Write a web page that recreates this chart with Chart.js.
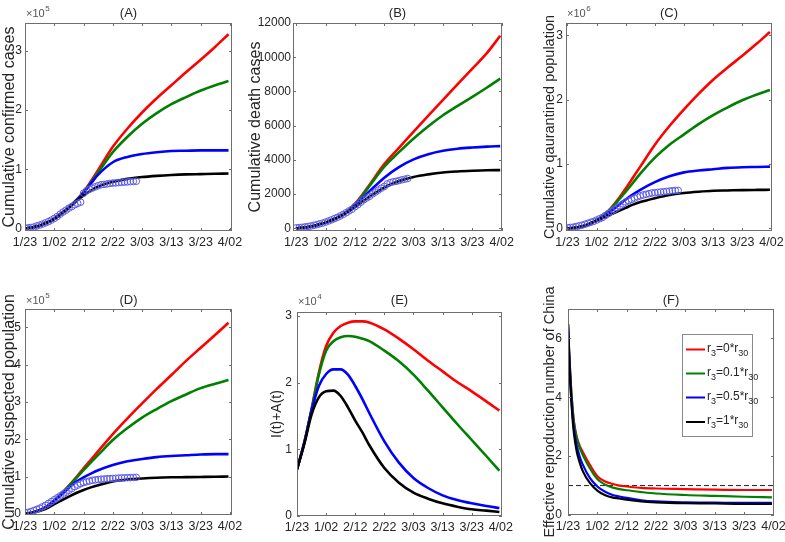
<!DOCTYPE html>
<html><head><meta charset="utf-8">
<script src="https://cdn.jsdelivr.net/npm/chart.js@4.4.1/dist/chart.umd.min.js"></script>
<style>
html,body{margin:0;padding:0;background:#fff;width:785px;height:542px;overflow:hidden;position:relative}
canvas{position:absolute}
</style></head><body>
<canvas id="cA"></canvas><canvas id="cB"></canvas><canvas id="cC"></canvas>
<canvas id="cD"></canvas><canvas id="cE"></canvas><canvas id="cF"></canvas>
<script>
// ---------- data ----------
const xTickDays   = [0, 10, 20, 30, 40, 50, 60, 70];
const xTickLabels = ['1/23', '1/02', '2/12', '2/22', '3/03', '3/13', '3/23', '4/02'];
const curveDays = [0, 2.5, 5, 7.5, 10, 12.5, 15, 17.5, 20, 22.5, 25, 30, 35, 40, 45, 50, 55, 60, 65, 69.5];
const rDays     = [0, 0.5, 1, 1.5, 2, 3, 4, 5, 7.5, 10, 12.5, 15, 17.5, 20, 25, 30, 40, 50, 60, 69.5];
const obsDays   = [0,1,2,3,4,5,6,7,8,9,10,11,12,13,14,15,16,17,18,19,20,21,22,23,24,25,26,27,28,29,30,31,32,33,34,35,36,37,38];
const legendFactors = ['0', '0.1', '0.5', '1'];

// (A) cumulative confirmed cases
const confirmed_r0  = [0,2000,5000,10000,17000,26000,36000,48000,62000,80000,99000,138000,169000,196000,220000,242000,264000,285000,307000,328000];
const confirmed_r01 = [0,2000,5000,10000,17000,26000,36000,48000,61000,78000,95000,129000,155000,177000,195000,210000,222000,233000,242000,249000];
const confirmed_r05 = [0,2000,5000,10000,17000,26000,36000,47000,60000,76000,91000,112000,121000,126000,129000,131000,131500,132000,132000,132000];
const confirmed_r1  = [0,2000,5000,10000,16000,25000,35000,46000,56000,64000,71000,79000,84000,87000,89000,90500,91500,92000,92500,93000];
const confirmed_obs = [830,1287,1975,2744,4515,5974,7711,9692,11791,14380,17205,20438,24324,28018,31161,34546,37198,40171,42638,44653,59804,63851,66492,68500,70548,72436,74185,74576,75465,76288,76936,77150,77658,78064,78497,78824,79251,79824,79968];

// (B) cumulative death cases
const death_r0  = [0,40,100,200,330,500,720,1000,1420,1950,2550,3750,4700,5650,6580,7500,8420,9330,10250,11250];
const death_r01 = [0,40,100,200,330,500,720,1000,1400,1900,2480,3600,4450,5250,5970,6610,7150,7680,8230,8750];
const death_r05 = [0,40,100,200,330,500,710,980,1360,1760,2170,2960,3580,4030,4330,4530,4650,4720,4770,4800];
const death_r1  = [0,40,100,200,330,500,700,950,1250,1550,1850,2380,2760,3000,3150,3260,3320,3360,3390,3400];
const death_obs = [25,41,56,80,106,132,170,213,259,304,361,425,490,563,636,722,811,908,1016,1113,1259,1380,1523,1665,1770,1868,2004,2118,2236,2345,2442,2592,2663,2715,2744,2788,2835,2870,2912];

// (C) cumulative quarantined population
const quar_r0  = [0,10000,30000,70000,130000,210000,320000,460000,620000,790000,960000,1300000,1590000,1850000,2090000,2310000,2500000,2680000,2870000,3050000];
const quar_r01 = [0,10000,30000,70000,130000,210000,310000,440000,570000,710000,850000,1100000,1300000,1460000,1620000,1760000,1880000,1990000,2080000,2150000];
const quar_r05 = [0,10000,30000,70000,125000,190000,270000,360000,450000,530000,600000,720000,810000,870000,900000,920000,940000,950000,955000,960000];
const quar_r1  = [0,10000,30000,70000,120000,170000,220000,270000,320000,370000,410000,470000,520000,550000,570000,585000,590000,595000,598000,600000];
const quar_obs = [10000,15000,20000,30000,40000,50000,65000,80000,95000,110000,130000,150000,170000,200000,230000,260000,290000,320000,350000,380000,410000,430000,450000,470000,490000,505000,520000,530000,540000,550000,555000,560000,565000,570000,575000,580000,585000,590000,590000];

// (D) cumulative suspected population
const susp_r0  = [0,4000,10000,20000,36000,55000,76000,98000,122000,145000,168000,214000,256000,296000,335000,372000,410000,445000,480000,512000];
const susp_r01 = [0,4000,10000,20000,36000,55000,75000,96000,117000,138000,158000,198000,230000,258000,281000,302000,320000,337000,349000,359000];
const susp_r05 = [0,4000,10000,20000,35000,52000,70000,86000,98000,108000,117000,131000,141000,147000,152000,155000,157000,159000,160000,160000];
const susp_r1  = [0,3000,8000,15000,26000,36000,46000,56000,64000,71000,77000,87000,92000,95000,97000,98000,98500,99000,99500,100000];
const susp_obs = [3000,4000,6000,9000,12000,15000,19000,23000,28000,33000,38000,43000,48000,53000,58000,63000,68000,73000,77000,81000,84000,86000,88000,90000,91000,92000,93000,93500,94000,94500,95000,95500,96000,96300,96600,97000,97200,97500,97800];

// (E) I(t)+A(t)
const active_r0  = [7000,11000,16000,21500,25500,27500,28500,29000,29200,29200,29000,28000,26600,25000,23300,21700,20100,18700,17200,15800];
const active_r01 = [7000,11000,16000,21200,24800,26200,26800,27000,26900,26600,26200,24800,23200,21200,18800,16300,13800,11400,9000,6800];
const active_r05 = [7000,11000,15800,19500,21300,22000,22000,21200,19500,17500,15300,11200,8000,5700,4200,3100,2400,1900,1500,1200];
const active_r1  = [7000,10800,15200,17800,18700,18800,18000,16300,14300,12500,10500,7200,5000,3500,2600,1900,1400,1000,800,600];

// (F) effective reproduction number
const rep_r0  = [6.5,5.3,4.4,3.7,3.2,2.65,2.35,2.15,1.7,1.32,1.15,1.06,1.0,0.97,0.92,0.9,0.88,0.86,0.85,0.85];
const rep_r01 = [6.5,5.3,4.4,3.7,3.15,2.6,2.28,2.05,1.58,1.22,1.04,0.94,0.88,0.84,0.78,0.73,0.68,0.65,0.62,0.6];
const rep_r05 = [6.5,5.2,4.2,3.5,2.95,2.35,1.98,1.72,1.25,0.97,0.8,0.69,0.63,0.58,0.5,0.46,0.43,0.42,0.41,0.41];
const rep_r1  = [6.5,5.1,4.1,3.35,2.8,2.15,1.78,1.5,1.08,0.83,0.68,0.6,0.56,0.52,0.46,0.43,0.4,0.39,0.38,0.38];
const thresholdDays = [0, 70.2];
const threshold = [1, 1];

// ---------- styling ----------
const COLORS = ['#ff0000', '#008000', '#0000ff', '#000000'];
const OBS_COLOR = '#5a5ae6';
const TXT = '#262626';
const AX = '#6e6e6e';
const NFONT = "'Liberation Sans Narrow','Liberation Sans',Arial,sans-serif";
const TFONT = "'Liberation Sans',Arial,sans-serif";

function pts(xs, ys) { return xs.map((x, i) => ({x: x, y: ys[i]})); }

function makePanel(p) {
  const cv = document.getElementById(p.id);
  const yW = p.L - p.cx, T = p.T - p.cy, xH = 24;
  const H = T + (p.B - p.T) + xH;
  cv.width = p.cw; cv.height = H;
  cv.style.left = p.cx + 'px'; cv.style.top = p.cy + 'px';
  const rPad = p.cw - yW - (p.R - p.L);
  const ds = [];
  if (p.obs) ds.push({data: pts(obsDays, p.obs), showLine: false, pointRadius: 3.3, pointHoverRadius: 3.3,
    pointBorderColor: OBS_COLOR, pointBackgroundColor: 'rgba(0,0,0,0)', pointBorderWidth: 1, order: 0});
  p.series.forEach((s, k) => ds.push({data: pts(p.days, s), borderColor: COLORS[k], borderWidth: p.lw,
    pointRadius: 0, cubicInterpolationMode: 'monotone', fill: false, order: 4 - k}));
  if (p.ref) ds.push({data: pts(thresholdDays, threshold), borderColor: '#222', borderWidth: 1,
    borderDash: [5, 3], pointRadius: 0, fill: false, order: 6});

  const deco = {
    id: 'deco',
    afterDraw(chart) {
      const {ctx, chartArea: a, scales: {x, y}} = chart;
      ctx.save();
      ctx.strokeStyle = AX; ctx.lineWidth = 1;
      ctx.strokeRect(Math.round(a.left) + 0.5, Math.round(a.top) + 0.5, Math.round(a.right - a.left) - 1, Math.round(a.bottom - a.top) - 1);
      ctx.beginPath();
      x.ticks.forEach(t => { const px = Math.round(x.getPixelForValue(t.value)) + 0.5;
        ctx.moveTo(px, a.bottom); ctx.lineTo(px, a.bottom - 3); ctx.moveTo(px, a.top); ctx.lineTo(px, a.top + 3); });
      y.ticks.forEach(t => { const py = Math.round(y.getPixelForValue(t.value)) + 0.5;
        ctx.moveTo(a.left, py); ctx.lineTo(a.left + 3, py); ctx.moveTo(a.right, py); ctx.lineTo(a.right - 3, py); });
      ctx.stroke();
      // panel title
      ctx.fillStyle = TXT; ctx.font = '13px ' + TFONT; ctx.textAlign = 'center'; ctx.textBaseline = 'middle';
      ctx.fillText(p.title, (a.left + a.right) / 2, p.titleY - p.cy);
      // exponent
      if (p.exp) {
        ctx.fillStyle = '#555'; ctx.textAlign = 'left'; ctx.textBaseline = 'alphabetic';
        ctx.font = '11px ' + NFONT;
        ctx.fillText('\u00d710', a.left + 1, p.expY - p.cy);
        const w = ctx.measureText('\u00d710').width;
        ctx.font = '8px ' + NFONT;
        ctx.fillText(p.exp, a.left + 1.5 + w, p.expY - p.cy - 6);
      }
      // legend
      if (p.legend) {
        const bx = 682 - p.cx, by = 334 - p.cy, bw = 70, bh = 102;
        ctx.fillStyle = '#fff'; ctx.fillRect(bx, by, bw, bh);
        ctx.strokeStyle = '#8a8a8a'; ctx.lineWidth = 1; ctx.strokeRect(bx + 0.5, by + 0.5, bw, bh);
        const rows = [349.5, 373.5, 397.5, 422];
        legendFactors.forEach((f, i) => {
          const yy = rows[i] - p.cy;
          ctx.strokeStyle = COLORS[i]; ctx.lineWidth = 2;
          ctx.beginPath(); ctx.moveTo(686 - p.cx, yy); ctx.lineTo(705 - p.cx, yy); ctx.stroke();
          ctx.fillStyle = TXT; ctx.textAlign = 'left'; ctx.textBaseline = 'alphabetic';
          let xx = 707 - p.cx;
          const big = '12px ' + NFONT, small = '9px ' + NFONT;
          ctx.font = big; ctx.fillText('r', xx, yy + 2); xx += ctx.measureText('r').width;
          ctx.font = small; ctx.fillText('3', xx, yy + 6); xx += ctx.measureText('3').width;
          ctx.font = big; const mid = '=' + f + '*r'; ctx.fillText(mid, xx, yy + 2); xx += ctx.measureText(mid).width;
          ctx.font = small; ctx.fillText('30', xx, yy + 6);
        });
      }
      ctx.restore();
    }
  };

  new Chart(cv, {
    type: 'line',
    data: {datasets: ds},
    plugins: [deco],
    options: {
      responsive: false, animation: false, devicePixelRatio: 1,
      layout: {padding: {top: T, right: rPad, left: 0, bottom: 0}},
      plugins: {legend: {display: false}, tooltip: {enabled: false}},
      scales: {
        x: {type: 'linear', min: p.xmin, max: p.xmax,
          afterBuildTicks: s => { s.ticks = xTickDays.map(v => ({value: v})); },
          afterFit: s => { s.height = xH; s.paddingLeft = 0; s.paddingRight = 0; },
          grid: {display: false, drawTicks: false}, border: {display: false},
          ticks: {autoSkip: false, maxRotation: 0, minRotation: 0, padding: 4, color: TXT,
            font: {family: NFONT, size: 12.5}, callback: v => xTickLabels[xTickDays.indexOf(v)]}},
        y: {type: 'linear', min: p.ymin, max: p.ymax,
          afterBuildTicks: s => { s.ticks = p.yTicks.map(v => ({value: v})); },
          afterFit: s => { s.width = yW; s.paddingTop = 0; s.paddingBottom = 0; },
          grid: {display: false, drawTicks: false}, border: {display: false},
          ticks: {padding: p.tpad, color: TXT, font: {family: NFONT, size: 12}, callback: v => p.fmt(v)},
          title: {display: true, text: p.ytitle, color: TXT, font: {family: TFONT, size: p.tsize},
            padding: {top: p.ttop, bottom: 0}}}
      }
    }
  });
}

makePanel({id: 'cA', cx: 0, cy: 0, cw: 248, L: 25, T: 23, R: 232, B: 231, xmin: 0, xmax: 70.7,
  ymin: -4000, ymax: 347000, yTicks: [0, 100000, 200000, 300000], fmt: v => String(v / 1e5),
  tpad: 3, ttop: 0.4, tsize: 16, ytitle: 'Cumulative confirmed cases', title: '(A)', titleY: 13.5, exp: '5', expY: 17,
  days: curveDays, series: [confirmed_r0, confirmed_r01, confirmed_r05, confirmed_r1], obs: confirmed_obs, lw: 2.6});
makePanel({id: 'cB', cx: 245, cy: 0, cw: 273, L: 293, T: 23, R: 502, B: 231, xmin: -1.1, xmax: 70.1,
  ymin: -160, ymax: 12000, yTicks: [0, 2000, 4000, 6000, 8000, 10000, 12000], fmt: v => String(v),
  tpad: 2, ttop: 1.4, tsize: 16, ytitle: 'Cumulative death cases', title: '(B)', titleY: 13.5, exp: null,
  days: curveDays, series: [death_r0, death_r01, death_r05, death_r1], obs: death_obs, lw: 2.6});
makePanel({id: 'cC', cx: 540, cy: 0, cw: 245, L: 566, T: 23, R: 772, B: 231, xmin: -0.5, xmax: 70.2,
  ymin: -40000, ymax: 3190000, yTicks: [0, 1000000, 2000000, 3000000], fmt: v => String(v / 1e6),
  tpad: 3, ttop: 1.3, tsize: 14.5, ytitle: 'Cumulative qaurantined population', title: '(C)', titleY: 13.5, exp: '6', expY: 17,
  days: curveDays, series: [quar_r0, quar_r01, quar_r05, quar_r1], obs: quar_obs, lw: 2.6});
makePanel({id: 'cD', cx: 0, cy: 276, cw: 248, L: 25, T: 309, R: 232, B: 515, xmin: 0, xmax: 70.7,
  ymin: -3000, ymax: 549000, yTicks: [0, 100000, 200000, 300000, 400000, 500000], fmt: v => String(v / 1e5),
  tpad: 4, ttop: 0, tsize: 16, ytitle: 'Cumulative suspected population', title: '(D)', titleY: 300, exp: '5', expY: 304,
  days: curveDays, series: [susp_r0, susp_r01, susp_r05, susp_r1], obs: susp_obs, lw: 2.6});
makePanel({id: 'cE', cx: 265, cy: 276, cw: 253, L: 297, T: 312, R: 502, B: 516, xmin: 0, xmax: 70.4,
  ymin: 0, ymax: 30600, yTicks: [0, 10000, 20000, 30000], fmt: v => String(v / 1e4),
  tpad: 5, ttop: 3.6, tsize: 14, ytitle: 'I(t)+A(t)', title: '(E)', titleY: 300.5, exp: '4', expY: 305,
  days: curveDays, series: [active_r0, active_r01, active_r05, active_r1], obs: null, lw: 2.6});
makePanel({id: 'cF', cx: 538, cy: 276, cw: 247, L: 568, T: 309, R: 774, B: 515, xmin: 0, xmax: 70.2,
  ymin: 0, ymax: 7, yTicks: [0, 2, 4, 6], fmt: v => String(v),
  tpad: 6, ttop: 3.3, tsize: 14.5, ytitle: 'Effective reproduction number of China', title: '(F)', titleY: 300, exp: null,
  days: rDays, series: [rep_r0, rep_r01, rep_r05, rep_r1], obs: null, lw: 2.2, ref: true, legend: true});
</script>
</body></html>
